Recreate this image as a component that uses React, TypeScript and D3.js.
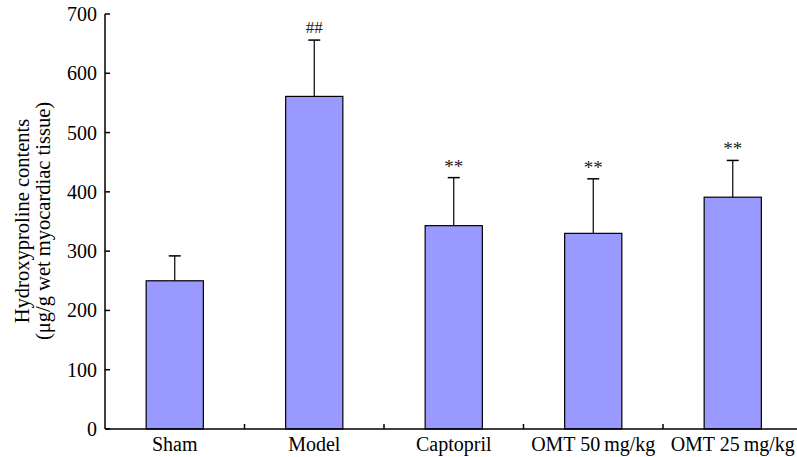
import React, { useRef, useEffect } from 'react';
import * as d3 from 'd3';

const groups = ['Sham', 'Model', 'Captopril', 'OMT 50\u2009mg/kg', 'OMT 25\u2009mg/kg'];
const means = [250, 561, 343, 330, 391];
const errs = [42, 95, 81, 92, 62];
const marks = ['', '##', '**', '**', '**'];
const yTicks = [0, 100, 200, 300, 400, 500, 600, 700];

const App = () => {
  const ref = useRef<SVGSVGElement>(null);

  useEffect(() => {
    const svg = d3.select(ref.current);
    svg.selectAll('*').remove();

    const left = 105;
    const top = 14;
    const bottom = 429;
    const font = '"Liberation Serif", "Times New Roman", serif';

    const x = d3.scaleBand<string>()
      .domain(groups)
      .range([left, left + 139.5 * groups.length])
      .paddingInner(0.59)
      .paddingOuter(0.295);

    const y = d3.scaleLinear().domain([0, 700]).range([bottom, top]);

    const g = svg.append('g');

    // bars
    g.selectAll('rect.bar')
      .data(groups)
      .enter()
      .append('rect')
      .attr('class', 'bar')
      .attr('x', d => x(d)!)
      .attr('y', (d, i) => y(means[i]))
      .attr('width', x.bandwidth())
      .attr('height', (d, i) => y(0) - y(means[i]))
      .attr('fill', '#9999ff')
      .attr('stroke', '#000')
      .attr('stroke-width', 1.2);

    // error bars (upper only)
    groups.forEach((d, i) => {
      const cx = x(d)! + x.bandwidth() / 2;
      const yt = y(means[i] + errs[i]);
      g.append('line')
        .attr('x1', cx).attr('x2', cx)
        .attr('y1', y(means[i])).attr('y2', yt)
        .attr('stroke', '#000').attr('stroke-width', 1.2);
      g.append('line')
        .attr('x1', cx - 6).attr('x2', cx + 6)
        .attr('y1', yt).attr('y2', yt)
        .attr('stroke', '#000').attr('stroke-width', 1.5);
      if (marks[i]) {
        g.append('text')
          .attr('x', cx)
          .attr('y', yt - (marks[i] === '##' ? 7 : 5))
          .attr('text-anchor', 'middle')
          .attr('font-family', font)
          .attr('font-size', marks[i] === '##' ? 17 : 19)
          .attr('fill', '#222')
          .text(marks[i]);
      }
    });

    // y axis
    g.append('line')
      .attr('x1', left).attr('x2', left)
      .attr('y1', top).attr('y2', bottom)
      .attr('stroke', '#000').attr('stroke-width', 1.5);
    yTicks.forEach(t => {
      g.append('line')
        .attr('x1', left).attr('x2', left + 5)
        .attr('y1', y(t)).attr('y2', y(t))
        .attr('stroke', '#000').attr('stroke-width', 1.5);
      g.append('text')
        .attr('x', left - 8)
        .attr('y', y(t))
        .attr('dy', '0.35em')
        .attr('text-anchor', 'end')
        .attr('font-family', font)
        .attr('font-size', 20)
        .text(t);
    });

    // x axis
    g.append('line')
      .attr('x1', left).attr('x2', 797)
      .attr('y1', bottom).attr('y2', bottom)
      .attr('stroke', '#000').attr('stroke-width', 1.5);
    groups.forEach((d, i) => {
      if (i > 0) {
        const tx = x(d)! - x.step() * x.paddingInner() / 2;
        g.append('line')
          .attr('x1', tx).attr('x2', tx)
          .attr('y1', bottom).attr('y2', bottom - 5)
          .attr('stroke', '#000').attr('stroke-width', 1.5);
      }
      g.append('text')
        .attr('x', x(d)! + x.bandwidth() / 2)
        .attr('y', 451)
        .attr('text-anchor', 'middle')
        .attr('font-family', font)
        .attr('font-size', 20)
        .text(d);
    });

    // y title
    const title = g.append('text')
      .attr('transform', 'translate(0,221) rotate(-90)')
      .attr('text-anchor', 'middle')
      .attr('font-family', font)
      .attr('font-size', 20.5);
    title.append('tspan').attr('x', 0).attr('y', 29).text('Hydroxyproline contents');
    title.append('tspan').attr('x', 0).attr('y', 50).text('(μg/g wet myocardiac tissue)');
  }, []);

  return (
    <svg ref={ref} width={797} height={457}
      style={{ position: 'absolute', left: 0, top: 0, background: '#fff' }} />
  );
};

export default App;
